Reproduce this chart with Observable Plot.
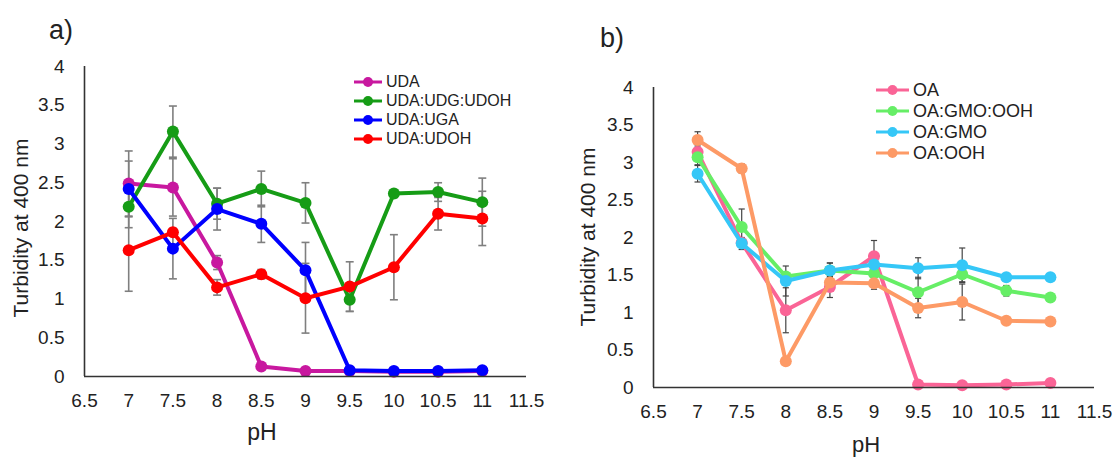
<!DOCTYPE html>
<html>
<head>
<meta charset="utf-8">
<script src="https://cdn.jsdelivr.net/npm/d3@7"></script>
<script src="https://cdn.jsdelivr.net/npm/@observablehq/plot@0.6"></script>
<style>
  body { margin: 0; background: #fff; }
  #wrap { position: relative; width: 1116px; height: 459px; font-family: "Liberation Sans", Arial, sans-serif; color: #222; overflow: hidden; }
  .pnl { position: absolute; top: 0; }
  .lab { position: absolute; white-space: nowrap; line-height: 1; }
  .ytitle { position: absolute; white-space: nowrap; line-height: 1; transform: translate(-50%, -50%) rotate(-90deg); font-size: 21px; }
  .legend { position: absolute; }
  .legend .row { display: flex; align-items: center; white-space: nowrap; line-height: 1; }
</style>
</head>
<body>
<div id="wrap"></div>
<script>
// ---- data ----
const pH = [7, 7.5, 8, 8.5, 9, 9.5, 10, 10.5, 11];
const xTicks = [6.5, 7, 7.5, 8, 8.5, 9, 9.5, 10, 10.5, 11, 11.5];
const yTicks = [0, 0.5, 1, 1.5, 2, 2.5, 3, 3.5, 4];

// panel a)
const namesA = ["UDA", "UDA:UDG:UDOH", "UDA:UGA", "UDA:UDOH"];
const UDA          = [2.49, 2.44, 1.47, 0.13, 0.07, 0.07, 0.06, 0.06, 0.07];
const UDA_err      = [0.42, 0.37, 0.09, 0.03, 0.01, 0.01, 0.01, 0.01, 0.01];
const UDA_UDG_UDOH = [2.19, 3.16, 2.23, 2.42, 2.24, 0.99, 2.36, 2.38, 2.25];
const UDA_UDG_UDOH_err = [0.27, 0.33, 0.20, 0.23, 0.26, 0.15, 0.05, 0.12, 0.31];
const UDA_UGA      = [2.42, 1.65, 2.16, 1.97, 1.37, 0.08, 0.07, 0.07, 0.08];
const UDA_UGA_err  = [0.36, 0.39, 0.27, 0.24, 0.36, 0.01, 0.01, 0.01, 0.01];
const UDA_UDOH     = [1.63, 1.86, 1.15, 1.32, 1.01, 1.16, 1.41, 2.10, 2.04];
const UDA_UDOH_err = [0.53, 0.05, 0.10, 0.06, 0.45, 0.32, 0.42, 0.21, 0.35];

// panel b)
const namesB = ["OA", "OA:GMO:OOH", "OA:GMO", "OA:OOH"];
const OA           = [3.14, 1.93, 1.03, 1.34, 1.75, 0.04, 0.03, 0.04, 0.06];
const OA_err       = [0.08, 0.05, 0.30, 0.14, 0.21, 0.01, 0.01, 0.01, 0.01];
const OA_GMO_OOH   = [3.07, 2.14, 1.48, 1.56, 1.52, 1.27, 1.51, 1.29, 1.20];
const OA_GMO_OOH_err = [0.10, 0.24, 0.05, 0.10, 0.08, 0.20, 0.10, 0.07, 0.02];
const OA_GMO       = [2.85, 1.92, 1.42, 1.56, 1.64, 1.59, 1.63, 1.47, 1.47];
const OA_GMO_err   = [0.11, 0.08, 0.20, 0.10, 0.05, 0.14, 0.23, 0.03, 0.02];
const OA_OOH       = [3.30, 2.92, 0.35, 1.40, 1.39, 1.06, 1.14, 0.89, 0.88];
const OA_OOH_err   = [0.11, 0.06, 0.05, 0.10, 0.08, 0.13, 0.24, 0.02, 0.02];

// ---- styles ----
const colorsA = ["#c8189f", "#169c16", "#0000ff", "#ff0000"];
const colorsB = ["#fa6496", "#66ee66", "#35c7f7", "#fd9a66"];

function buildRows(names, values, errors) {
  return names.flatMap((s, i) => pH.map((x, j) => ({series: s, x, y: values[i][j], e: errors[i][j]})));
}

function panel(cfg) {
  const rows = buildRows(cfg.names, cfg.values, cfg.errors);
  const cap = cfg.cap;
  const eb = {stroke: cfg.errColor, strokeWidth: cfg.errWidth};
  const marks = [
    Plot.link(rows, {x1: "x", x2: "x", y1: d => d.y - d.e, y2: d => d.y + d.e, ...eb}),
    Plot.link(rows, {x1: d => d.x - cap, x2: d => d.x + cap, y1: d => d.y + d.e, y2: d => d.y + d.e, ...eb}),
    Plot.link(rows, {x1: d => d.x - cap, x2: d => d.x + cap, y1: d => d.y - d.e, y2: d => d.y - d.e, ...eb}),
    ...cfg.names.flatMap((s, i) => {
      const d = rows.filter(r => r.series === s);
      return [
        Plot.line(d, {x: "x", y: "y", stroke: cfg.colors[i], strokeWidth: 4, strokeLinejoin: "round"}),
        Plot.dot(d, {x: "x", y: "y", r: 6, fill: cfg.colors[i], stroke: "none"})
      ];
    }),
    Plot.ruleY([0], {stroke: "#333", strokeWidth: 1.6}),
    Plot.ruleX([6.5], {stroke: "#333", strokeWidth: 1.6}),
    Plot.axisX({ticks: xTicks, tickSize: 0, tickPadding: 17, tickFormat: d => String(d), label: null, fontSize: 19}),
    Plot.axisY({ticks: yTicks, tickSize: 0, tickPadding: 20, tickFormat: d => String(d), label: null, fontSize: 19})
  ];
  return Plot.plot({
    width: cfg.width, height: 459,
    marginLeft: cfg.ml, marginRight: cfg.mr, marginTop: cfg.mt, marginBottom: cfg.mb,
    x: {domain: [6.5, 11.5]},
    y: {domain: [0, 4]},
    style: {fontFamily: "'Liberation Sans', Arial, sans-serif", color: "#222", background: "transparent", overflow: "visible"},
    marks
  });
}

const wrap = document.getElementById("wrap");

function addPanel(svg, left) {
  svg.classList.add("pnl");
  svg.style.left = left + "px";
  wrap.appendChild(svg);
}

addPanel(panel({
  names: namesA, values: [UDA, UDA_UDG_UDOH, UDA_UGA, UDA_UDOH],
  errors: [UDA_err, UDA_UDG_UDOH_err, UDA_UGA_err, UDA_UDOH_err],
  colors: colorsA, width: 560, ml: 84, mr: 34, mt: 66, mb: 83,
  errColor: "#7f7f7f", errWidth: 1.6, cap: 0.045
}), 0);

addPanel(panel({
  names: namesB, values: [OA, OA_GMO_OOH, OA_GMO, OA_OOH],
  errors: [OA_err, OA_GMO_OOH_err, OA_GMO_err, OA_OOH_err],
  colors: colorsB, width: 556, ml: 93, mr: 22, mt: 87, mb: 72,
  errColor: "#444", errWidth: 1.2, cap: 0.035
}), 560);

function addText(txt, x, y, size, cls) {
  const el = document.createElement("div");
  el.className = cls || "lab";
  el.textContent = txt;
  el.style.left = x + "px";
  el.style.top = y + "px";
  if (size) el.style.fontSize = size + "px";
  if (!cls) el.style.transform = "translate(-50%, -50%)";
  wrap.appendChild(el);
}

addText("a)", 61, 30, 27);
addText("b)", 612, 38, 27);
addText("pH", 262, 432, 23);
addText("pH", 866, 445, 22);
addText("Turbidity at 400 nm", 20, 228, null, "ytitle");
addText("Turbidity at 400 nm", 587, 237, null, "ytitle");

function addLegend(names, colors, left, top, rowH, size, lineW) {
  const lg = document.createElement("div");
  lg.className = "legend";
  lg.style.left = left + "px";
  lg.style.top = top + "px";
  names.forEach((n, i) => {
    const row = document.createElement("div");
    row.className = "row";
    row.style.height = rowH + "px";
    row.style.fontSize = size + "px";
    const ns = "http://www.w3.org/2000/svg";
    const sw = document.createElementNS(ns, "svg");
    sw.setAttribute("width", lineW + 2);
    sw.setAttribute("height", 14);
    sw.style.marginRight = "2px";
    const ln = document.createElementNS(ns, "line");
    ln.setAttribute("x1", 0); ln.setAttribute("x2", lineW);
    ln.setAttribute("y1", 7); ln.setAttribute("y2", 7);
    ln.setAttribute("stroke", colors[i]); ln.setAttribute("stroke-width", 3);
    const c = document.createElementNS(ns, "circle");
    c.setAttribute("cx", lineW / 2); c.setAttribute("cy", 7); c.setAttribute("r", 5);
    c.setAttribute("fill", colors[i]);
    sw.appendChild(ln); sw.appendChild(c);
    row.appendChild(sw);
    const t = document.createElement("span");
    t.textContent = n;
    row.appendChild(t);
    lg.appendChild(row);
  });
  wrap.appendChild(lg);
}

addLegend(namesA, colorsA, 354, 72, 19, 16, 28);
addLegend(namesB, colorsB, 876, 79, 21, 18, 33);
</script>
</body>
</html>
